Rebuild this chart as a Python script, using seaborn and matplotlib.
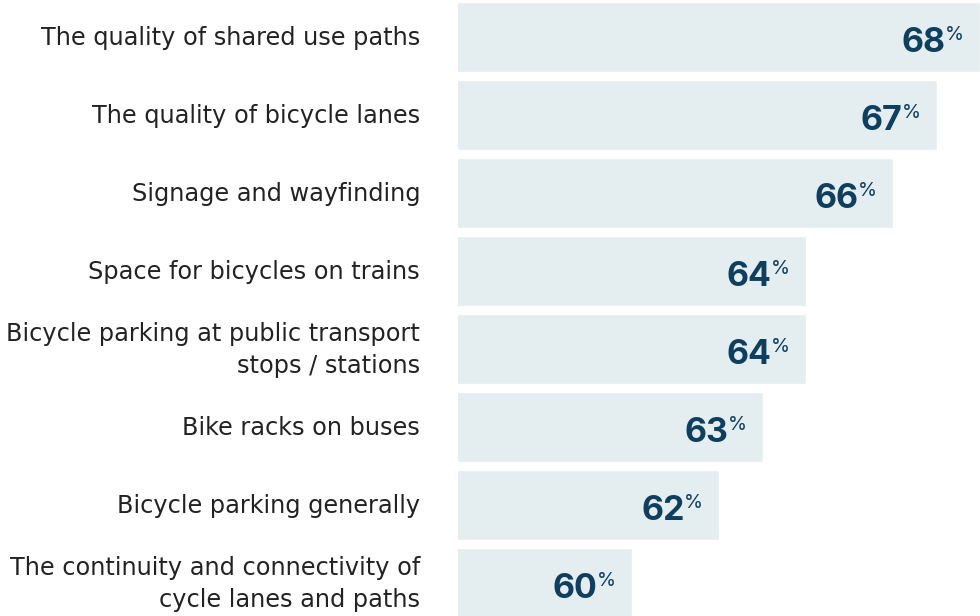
import matplotlib
matplotlib.use("Agg")
import matplotlib.pyplot as plt
import seaborn as sns
import pandas as pd

categories = [
    "The quality of shared use paths",
    "The quality of bicycle lanes",
    "Signage and wayfinding",
    "Space for bicycles on trains",
    "Bicycle parking at public transport\nstops / stations",
    "Bike racks on buses",
    "Bicycle parking generally",
    "The continuity and connectivity of\ncycle lanes and paths",
]
values = [68, 67, 66, 64, 64, 63, 62, 60]

BAR_COLOR = "#e4edf0"
VALUE_COLOR = "#0f3f5f"
LABEL_COLOR = "#222222"

sns.set_theme(style="white")
plt.rcParams["font.family"] = ["DejaVu Sans"]

df = pd.DataFrame({"category": categories, "value": values})

W, H = 980, 616
fig = plt.figure(figsize=(W / 100, H / 100), dpi=100)
ax = fig.add_axes([458 / W, 0, (W - 458) / W, 1])

sns.barplot(data=df, x="value", y="category", orient="h", color=BAR_COLOR,
            width=70 / 78, saturation=1, ax=ax)

ax.set_xlim(56, 68)
# bar pitch is 78 px, first bar centred 37 px below the top edge
ax.set_ylim((H - 37) / 78, -37 / 78)

for spine in ax.spines.values():
    spine.set_visible(False)
ax.set_xlabel("")
ax.set_ylabel("")
ax.set_xticks([])
ax.set_yticks([])

# category labels, right-aligned 38 px left of the bars
# (baseline alignment anchors the last line of a wrapped label)
for i, cat in enumerate(categories):
    two_lines = "\n" in cat
    ax.annotate(cat, xy=(0, i), xycoords=("axes fraction", "data"),
                xytext=(-38, -24 if two_lines else -8.5), textcoords="offset pixels",
                ha="right", va="baseline", ma="right", linespacing=1.4,
                fontsize=17.3, color=LABEL_COLOR, annotation_clip=False)

# value labels: bold number with a raised percent sign
for i, v in enumerate(values):
    ax.annotate(f"{v}", xy=(v, i), xytext=(-34.5, -15), textcoords="offset pixels",
                ha="right", va="baseline", fontsize=24.5, fontweight="bold",
                color=VALUE_COLOR, family=["Inter", "DejaVu Sans"])
    ax.annotate("%", xy=(v, i), xytext=(-16, -3), textcoords="offset pixels",
                ha="right", va="baseline", fontsize=14,
                color=VALUE_COLOR, family=["Inter", "DejaVu Sans"])

fig.savefig("out.png", dpi=100)
